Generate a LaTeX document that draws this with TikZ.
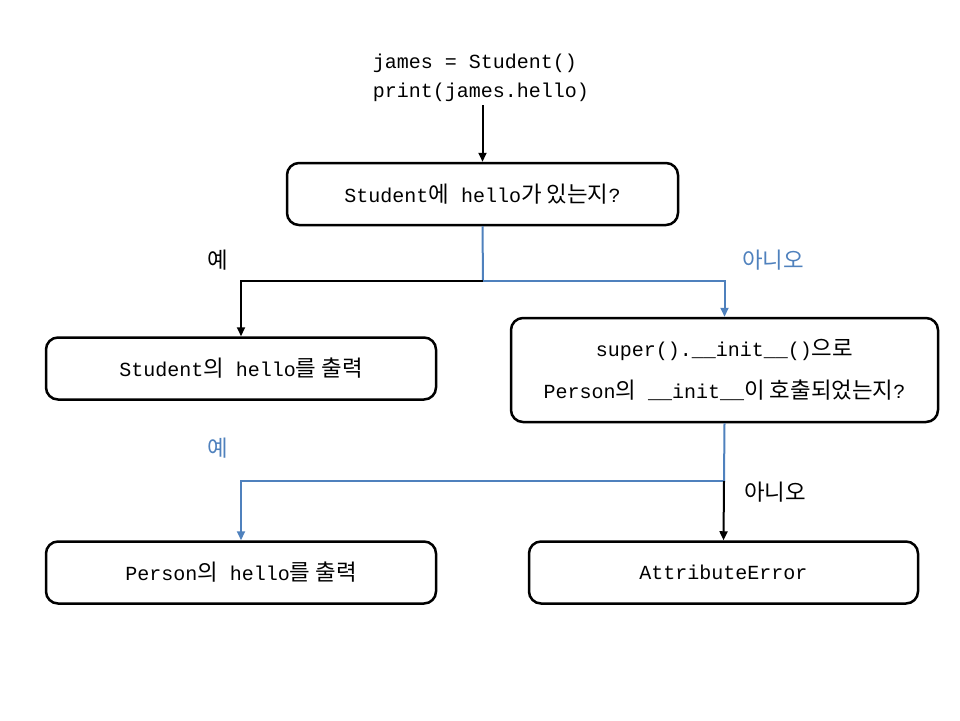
\documentclass[tikz,border=0pt]{standalone}
\usepackage{fontspec}
\setmainfont{Liberation Mono}
\newfontfamily\kr[Scale=1.12]{Noto Sans CJK KR}
\usetikzlibrary{arrows.meta, positioning}
\definecolor{noblue}{RGB}{79,129,189}

\begin{document}
\begin{tikzpicture}[x=1pt,y=-1pt,font=\fontsize{20}{29}\selectfont,
    box/.style={draw,line width=2.5pt,rounded corners=12pt,minimum height=62pt,align=center},
    flow/.style={line width=2pt,-{Triangle[length=9pt,width=8pt]}},
    bare/.style={line width=2pt}]
\useasboundingbox (0,0) rectangle (960,720);

\node[align=left] (code) at (481,78) {james = Student()\\print(james.hello)};
\node[box,minimum width=391pt] (q1) at (482.5,194) {Student{\kr 에} hello{\kr 가 있는지}?};
\node[box,minimum width=390pt] (s1) at (241,368.5) {Student{\kr 의} hello{\kr 를 출력}};
\node[box,minimum width=427pt,minimum height=104pt,font=\fontsize{20}{42}\selectfont] (q2) at (724.5,370)
    {super().\_\_init\_\_(){\kr 으로}\\Person{\kr 의} \_\_init\_\_{\kr 이 호출되었는지}?};
\node[box,minimum width=390pt] (s2) at (241,572.5) {Person{\kr 의} hello{\kr 를 출력}};
\node[box,minimum width=389pt] (s3) at (723.5,572.5) {AttributeError};

\coordinate (j1) at (483,281);
\coordinate (j2) at (724,481);

% first question
\draw[flow] (code.south -| q1.north) -- (q1.north);
\draw[bare,noblue] (q1.south) -- (j1);
\draw[flow] (j1) -| (s1.north);
\draw[flow,noblue] (j1) -| (q2.north);
\node (y1) at (218,260) {\kr 예};
\node[noblue] (n1) at (773,260) {\kr 아니오};

% second question
\draw[bare,noblue] (q2.south) -- (j2);
\draw[flow,noblue] (j2) -| (s2.north);
\draw[flow] (j2) -- (s3.north);
\node[noblue] (y2) at (218,448) {\kr 예};
\node (n2) at (775,492) {\kr 아니오};
\end{tikzpicture}
\end{document}
